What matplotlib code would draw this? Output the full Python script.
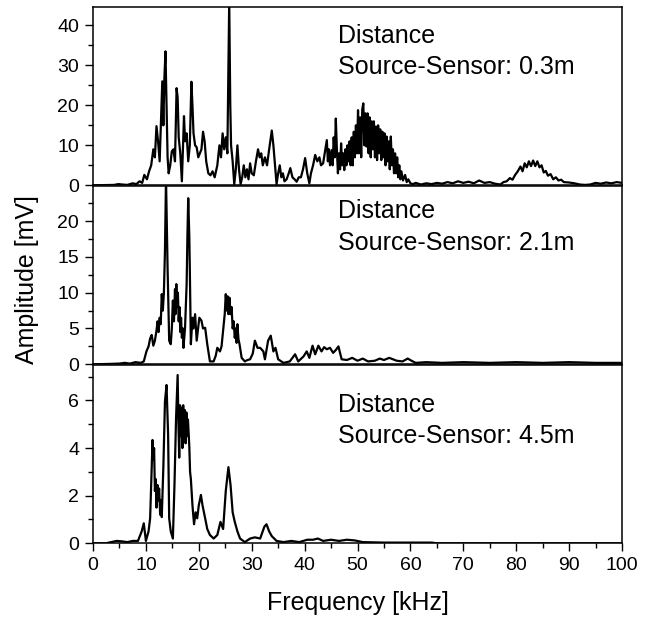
import matplotlib
matplotlib.use('Agg')
import matplotlib.pyplot as plt
from matplotlib.ticker import MultipleLocator

plt.rcParams['font.family'] = ['Liberation Sans', 'DejaVu Sans']

# Spectra as (frequency kHz, amplitude mV) points
spectrum_03 = [
    (0, 0), (2, 0.05), (4, 0.1), (4.8, 0.3), (5.5, 0.2), (6.5, 0.1), (7.5, 0.5), (8.2, 0.3),
    (8.8, 1.0), (9.3, 0.6), (9.7, 2.6), (10.2, 1.5), (10.6, 3.5), (11.0, 5), (11.4, 9), (11.7, 7),
    (12.0, 14.8), (12.3, 11), (12.6, 6), (12.9, 18), (13.1, 26), (13.3, 15), (13.5, 27), (13.7, 33.5),
    (13.9, 20), (14.1, 7), (14.3, 3), (14.6, 5), (14.9, 8.5), (15.2, 9), (15.5, 6), (15.8, 24.3),
    (16.0, 22), (16.2, 12), (16.5, 8), (16.8, 1), (17.0, 9), (17.2, 17.3), (17.4, 11), (17.7, 13),
    (18.0, 6), (18.3, 10), (18.6, 25.9), (18.8, 20), (19.0, 13), (19.3, 10), (19.6, 9.5), (19.9, 7),
    (20.2, 8), (20.5, 9), (20.8, 13.4), (21.1, 11), (21.4, 6), (21.8, 3), (22.2, 2.5), (22.6, 3.5),
    (23.0, 2), (23.5, 5), (23.9, 10), (24.2, 7), (24.5, 13), (24.8, 9), (25.1, 12), (25.4, 8),
    (25.6, 30), (25.75, 46), (25.95, 20), (26.1, 10), (26.4, 6), (26.7, 0.3), (27.0, 4), (27.3, 10),
    (27.6, 4), (27.9, 0.3), (28.2, 2), (28.5, 5), (28.8, 2), (29.1, 4), (29.4, 1.5), (29.7, 5.5),
    (30.0, 3), (30.4, 2.5), (30.8, 6), (31.2, 9), (31.5, 7), (31.8, 8), (32.1, 5), (32.5, 7),
    (32.9, 5), (33.3, 9), (33.8, 13.7), (34.1, 10), (34.4, 5), (34.7, 0.3), (35.0, 3), (35.3, 5),
    (35.6, 2), (35.9, 3), (36.2, 1), (36.6, 1.5), (37.0, 3), (37.3, 4.3), (37.7, 2), (38.1, 1.5),
    (38.5, 0.9), (38.9, 2), (39.3, 2), (39.7, 4), (40.1, 6.8), (40.5, 3), (40.9, 0.5), (41.2, 3),
    (41.6, 5), (42.0, 7.6), (42.4, 6), (42.8, 7), (43.1, 5), (43.5, 5.5), (43.8, 8), (44.2, 11.3),
    (44.4, 6), (44.6, 9), (44.8, 5), (45.1, 8.8), (45.3, 5), (45.5, 12), (45.7, 7), (45.9, 16.7),
    (46.1, 9), (46.3, 3), (46.5, 8), (46.7, 4), (46.9, 10.5), (47.1, 5), (47.3, 8), (47.5, 3.8),
    (47.7, 9), (47.9, 5), (48.1, 10), (48.3, 6), (48.5, 11), (48.7, 5), (48.9, 12), (49.1, 5),
    (49.3, 13.4), (49.5, 7), (49.7, 15), (49.9, 8), (50.1, 18.8), (50.3, 8), (50.5, 17), (50.7, 7),
    (50.9, 19), (51.1, 20.5), (51.3, 10), (51.5, 18), (51.7, 9.7), (51.9, 18), (52.1, 8), (52.3, 17),
    (52.5, 7), (52.7, 16), (52.9, 9), (53.1, 16), (53.3, 7), (53.5, 14.7), (53.7, 6.3), (53.9, 15),
    (54.1, 8), (54.3, 14), (54.5, 6.3), (54.7, 13.4), (54.9, 7), (55.1, 13), (55.3, 5), (55.5, 12.2),
    (55.7, 6), (55.9, 11), (56.1, 4), (56.3, 12.2), (56.5, 5), (56.7, 9), (56.9, 3), (57.1, 8),
    (57.3, 3), (57.5, 7), (57.7, 2), (57.9, 5), (58.1, 1.5), (58.3, 3.5), (58.6, 1.2), (59.0, 2.6),
    (59.3, 0.8), (59.6, 1.5), (60.0, 0.5), (60.5, 0.3), (61, 0.6), (62, 0.2), (63, 0.5), (64, 0.3),
    (65, 0.6), (66, 0.4), (67, 0.8), (68, 0.5), (69, 1.0), (70, 0.6), (71, 0.9), (72, 0.5),
    (73, 1.2), (74, 0.6), (75, 0.8), (76, 0.4), (77, 0.2), (77.6, 0.8), (78.2, 1.0), (78.8, 1.8),
    (79.3, 1.4), (79.8, 2.6), (80.3, 3.5), (80.8, 4.7), (81.2, 3.5), (81.6, 5.5), (82.0, 4.5),
    (82.4, 6), (82.8, 4.8), (83.2, 6.2), (83.6, 4.8), (84.0, 6), (84.4, 4.5), (84.8, 5), (85.2, 3.2),
    (85.6, 3.6), (86.0, 2.4), (86.5, 2.8), (87.0, 1.5), (87.5, 2), (88.0, 1.2), (88.5, 1.4),
    (89, 0.8), (90, 0.7), (91, 0.5), (92, 0.2), (93, 0.1), (94, 0.2), (95, 0.6), (96, 0.4),
    (97, 0.7), (98, 0.5), (99, 0.8), (100, 0.6),
]

spectrum_21 = [
    (0, 0), (3, 0.05), (5, 0.1), (6, 0.2), (7, 0.1), (8, 0.3), (9, 0.2), (9.6, 0.4),
    (10.1, 1.8), (10.5, 2.5), (10.8, 3.6), (11.1, 4.1), (11.4, 2.6), (11.7, 3.3), (12.0, 4.7),
    (12.2, 6), (12.4, 4.5), (12.6, 6.5), (12.8, 5.6), (13.0, 9.8), (13.2, 7.5), (13.4, 10),
    (13.6, 15.7), (13.8, 26), (14.1, 13.4), (14.4, 3.3), (14.7, 2.8), (14.9, 5), (15.1, 8.9),
    (15.3, 6), (15.5, 10.5), (15.6, 7), (15.75, 11.2), (15.9, 8), (16.05, 10), (16.2, 6),
    (16.35, 8), (16.5, 4.5), (16.65, 6.5), (16.8, 3.7), (17.0, 5), (17.1, 2.3), (17.4, 5.1),
    (17.7, 11.2), (17.85, 18), (18.0, 23.2), (18.2, 18), (18.3, 13.4), (18.5, 2.8), (18.8, 6.5),
    (19.0, 5), (19.3, 7), (19.6, 3.3), (20.1, 6.5), (20.5, 6.1), (20.8, 5), (21.2, 5.1),
    (21.6, 2.8), (22.1, 0.4), (22.8, 0.4), (23.2, 1.2), (23.5, 2.3), (24.0, 1.8), (24.3, 2.5),
    (24.6, 4.7), (24.9, 7), (25.1, 9.8), (25.3, 7.5), (25.45, 9.5), (25.6, 7), (25.8, 9.3),
    (26.0, 7), (26.2, 8), (26.4, 5), (26.6, 6), (26.8, 3.7), (27.0, 5), (27.15, 3), (27.3, 5.6),
    (27.5, 3.5), (27.7, 2.8), (28.1, 0.9), (28.7, 0.4), (29.2, 0.6), (29.7, 0.7), (30.2, 1.5),
    (30.6, 3.3), (31.1, 2.3), (31.6, 2.3), (32.2, 1.8), (32.5, 0.7), (33.1, 3.3), (33.6, 4.0),
    (34.1, 1.8), (34.5, 2.3), (35.0, 0.7), (36.0, 0.2), (37.2, 0.4), (38.2, 1.4), (38.8, 0.4),
    (39.8, 1.1), (40.4, 1.8), (40.9, 0.9), (41.5, 2.6), (42.0, 1.4), (42.6, 2.6), (43.2, 1.8),
    (43.7, 2.4), (44.2, 2.1), (44.8, 2.3), (45.4, 1.6), (45.9, 2.0), (46.4, 2.5), (47.0, 0.7),
    (48, 0.6), (49, 0.9), (50, 0.5), (51, 0.8), (52, 0.4), (53.3, 0.5), (54.2, 0.8), (55, 0.6),
    (56, 0.9), (57.4, 0.5), (58.5, 0.4), (59.5, 0.8), (60.2, 0.5), (61, 0.2), (63, 0.3),
    (66, 0.2), (70, 0.3), (75, 0.2), (80, 0.3), (85, 0.2), (90, 0.3), (95, 0.2), (100, 0.2),
]

spectrum_45 = [
    (0, 0), (2.5, 0), (3, 0.03), (4.5, 0.1), (5.5, 0.08), (6.5, 0.05), (7.5, 0.1), (8.5, 0.1),
    (9.2, 0.5), (9.6, 0.84), (10.0, 0.1), (10.5, 0.5), (10.8, 1.05), (11.1, 3.2), (11.25, 4.34),
    (11.4, 3.5), (11.55, 4.0), (11.7, 2.2), (11.85, 2.7), (12.0, 1.5), (12.2, 2.45), (12.35, 1.8),
    (12.5, 2.3), (12.7, 1.2), (12.85, 1.8), (13.0, 1.1), (13.3, 3.2), (13.6, 5.95), (13.9, 6.65),
    (14.2, 4.55), (14.4, 1.05), (14.7, 0.5), (15.1, 0.2), (15.4, 2.45), (15.7, 5.25), (16.0, 7.07),
    (16.15, 5), (16.3, 3.6), (16.45, 5.8), (16.6, 4.5), (16.75, 5.7), (16.9, 4), (17.05, 5.8),
    (17.2, 4.5), (17.35, 5.6), (17.5, 4.2), (17.65, 5.5), (17.8, 4.5), (17.95, 5.2), (18.2, 4.1),
    (18.35, 3), (18.5, 2.7), (18.8, 1.6), (19.1, 0.8), (19.4, 1.3), (19.7, 1.05), (20.0, 1.6),
    (20.4, 2.03), (20.7, 1.6), (21.2, 1.05), (21.6, 0.6), (22.1, 0.35), (22.8, 0.2), (23.5, 0.35),
    (24.1, 0.9), (24.6, 0.6), (25.1, 2.2), (25.6, 3.2), (26.0, 2.45), (26.4, 1.3), (26.8, 0.9),
    (27.3, 0.5), (27.8, 0.2), (28.7, 0.05), (29.7, 0.2), (30.6, 0.25), (31.6, 0.2), (32.4, 0.7),
    (32.8, 0.8), (33.3, 0.5), (33.8, 0.3), (34.7, 0.1), (36, 0.05), (37.5, 0.1), (39, 0.05),
    (40.5, 0.15), (41.6, 0.15), (42.5, 0.2), (43.5, 0.1), (45, 0.15), (46.5, 0.1), (48, 0.15),
    (49.5, 0.12), (51, 0.05), (55, 0.03), (60, 0.03), (64, 0.03), (65, 0), (100, 0),
]

distances = ['0.3m', '2.1m', '4.5m']
y_limits = [44.6, 24.9, 7.49]
y_major = [10, 5, 2]
y_minor = [5, 2.5, 1]
# axes-fraction position of the label text in each panel
label_y = [0.905, 0.925, 0.845]


def setup_axes(ax, ymax, major, minor, bottom):
    """Frame and tick style for one panel."""
    ax.set_xlim(0, 100)
    ax.set_ylim(0, ymax)
    ax.yaxis.set_major_locator(MultipleLocator(major))
    ax.yaxis.set_minor_locator(MultipleLocator(minor))
    ax.xaxis.set_major_locator(MultipleLocator(10))
    ax.xaxis.set_minor_locator(MultipleLocator(5))
    ax.tick_params(axis='y', which='major', direction='out', length=6, width=1, labelsize=14, pad=4)
    ax.tick_params(axis='y', which='minor', direction='out', length=3.5, width=1)
    if bottom:
        ax.tick_params(axis='x', which='major', direction='out', length=6, width=1, labelsize=14, pad=4)
        ax.tick_params(axis='x', which='minor', direction='out', length=3.5, width=1)
    else:
        ax.tick_params(axis='x', which='both', bottom=False, labelbottom=False)
    for sp in ax.spines.values():
        sp.set_linewidth(1.1)


fig = plt.figure(figsize=(6.53, 6.21), dpi=100)

left = 93 / 653
width = 529 / 653
height = 178.3 / 621
bottoms = [1 - 185.3 / 621, 1 - 364.3 / 621, 1 - 543.3 / 621]

series = [spectrum_03, spectrum_21, spectrum_45]

for i, points in enumerate(series):
    f = [p[0] for p in points]
    a = [p[1] for p in points]
    ax = fig.add_axes([left, bottoms[i], width, height])
    ax.plot(f, a, color='black', linewidth=1.6, zorder=1)
    setup_axes(ax, y_limits[i], y_major[i], y_minor[i], bottom=(i == 2))
    ax.text(0.463, label_y[i], 'Distance\nSource-Sensor: ' + distances[i],
            transform=ax.transAxes, fontsize=18, va='top', ha='left', linespacing=1.38)

fig.text(27 / 653, 1 - 280 / 621, 'Amplitude [mV]', rotation=90, fontsize=18,
         ha='center', va='center')
fig.text((93 + 622) / 2 / 653, 1 - 603 / 621, 'Frequency [kHz]', fontsize=18,
         ha='center', va='center')

fig.savefig('out.png', dpi=100)
